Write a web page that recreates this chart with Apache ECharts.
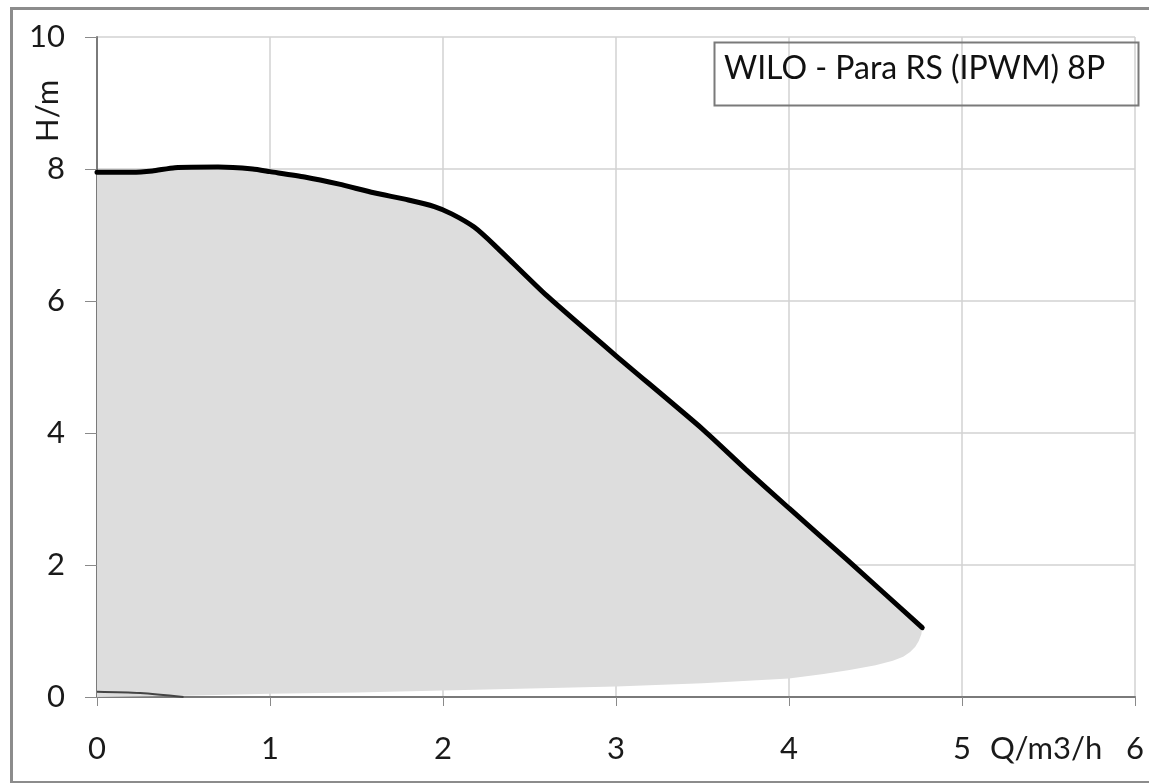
<!DOCTYPE html>
<html>
<head>
<meta charset="utf-8">
<script src="https://cdn.jsdelivr.net/npm/echarts@6/dist/echarts.min.js"></script>
<style>
html,body{margin:0;padding:0;background:#fff;}
#main{width:1149px;height:783px;}
</style>
</head>
<body>
<div id="main"></div>
<script>
// ---- data ----
const chartTitle = 'WILO - Para RS (IPWM) 8P';
const xAxisName = 'Q/m3/h';
const yAxisName = 'H/m';
const xTicks = [0, 1, 2, 3, 4, 5, 6];
const yTicks = [0, 2, 4, 6, 8, 10];

// pump curve (top boundary), Q in m3/h, H in m
const curveQ = [0, 0.2, 0.32, 0.45, 0.7, 0.9, 1.0, 1.2, 1.4, 1.6, 1.8, 1.95, 2.05, 2.18, 2.3, 2.6, 3.0, 3.5, 3.75, 4.0, 4.34, 4.77];
const curveH = [7.95, 7.95, 7.97, 8.02, 8.03, 8.0, 7.96, 7.88, 7.77, 7.64, 7.53, 7.43, 7.32, 7.12, 6.84, 6.08, 5.17, 4.06, 3.45, 2.86, 2.07, 1.05];

// lower boundary of the operating range (from the curve end back to the origin)
const lowerQ = [4.77, 4.765, 4.75, 4.73, 4.7, 4.66, 4.6, 4.5, 4.35, 4.2, 4.0, 3.5, 3.0, 2.5, 2.0, 1.5, 1.0, 0.5, 0];
const lowerH = [1.05, 0.95, 0.85, 0.76, 0.68, 0.61, 0.55, 0.48, 0.41, 0.35, 0.28, 0.21, 0.16, 0.13, 0.1, 0.07, 0.05, 0.02, 0];

// small line near origin
const minQ = [0, 0.25, 0.5];
const minH = [0.08, 0.06, 0.0];

// ---- chart ----
const zip = (a, b) => a.map((v, i) => [v, b[i]]);
const curveData = zip(curveQ, curveH);
const lowerData = zip(lowerQ, lowerH);
const polyData = curveData.concat(lowerData);

const fontFam = 'Lato, "Open Sans", sans-serif';
const chart = echarts.init(document.getElementById('main'), null, {renderer: 'canvas'});

chart.setOption({
  animation: false,
  backgroundColor: '#ffffff',
  grid: {left: 97, top: 37, right: 14, bottom: 86, containLabel: false},
  xAxis: {
    type: 'value', min: xTicks[0], max: xTicks[xTicks.length - 1], interval: 1,
    axisLine: {show: true, lineStyle: {color: '#7a7a7a', width: 2}},
    axisTick: {show: true, length: 9, lineStyle: {color: '#8a8a8a', width: 1}},
    splitLine: {show: true, lineStyle: {color: '#d2d2d2', width: 1.5}},
    axisLabel: {margin: 36, color: '#1a1a1a', fontFamily: fontFam, fontSize: 31,
      formatter: v => xTicks.indexOf(v) >= 0 ? String(v) : ''}
  },
  yAxis: {
    type: 'value', min: yTicks[0], max: yTicks[yTicks.length - 1], interval: 2,
    axisLine: {show: true, lineStyle: {color: '#7a7a7a', width: 2}},
    axisTick: {show: true, length: 12, lineStyle: {color: '#8a8a8a', width: 1}},
    splitLine: {show: true, lineStyle: {color: '#d2d2d2', width: 1.5}},
    axisLabel: {margin: 32, color: '#1a1a1a', fontFamily: fontFam, fontSize: 31,
      formatter: v => yTicks.indexOf(v) >= 0 ? String(v) : ''}
  },
  graphic: [
    {type: 'rect', left: 9, top: 6, z: 100, silent: true,
      shape: {x: 0, y: 0, width: 1160, height: 774},
      style: {fill: 'none', stroke: '#8c8c8c', lineWidth: 3}},
    {type: 'rect', left: 712, top: 40, z: 100, silent: true,
      shape: {x: 0, y: 0, width: 424, height: 63},
      style: {fill: 'none', stroke: '#7a7a7a', lineWidth: 2}},
    {type: 'text', left: 724, top: 53, z: 101,
      style: {text: chartTitle, fill: '#111111', font: '32px ' + fontFam}},
    {type: 'text', left: 990, top: 733, z: 101,
      style: {text: xAxisName, fill: '#1a1a1a', font: '31px ' + fontFam}},
    {type: 'text', x: 32, y: 142, rotation: Math.PI / 2, z: 101,
      style: {text: yAxisName, fill: '#1a1a1a', font: '31px ' + fontFam}}
  ],
  series: [
    {
      type: 'custom', name: 'range', z: 1, silent: true,
      data: [0],
      renderItem: function (params, api) {
        const pts = polyData.map(p => api.coord(p));
        return {type: 'polygon', shape: {points: pts}, style: {fill: '#dddddd', stroke: 'none'}};
      }
    },
    {
      type: 'line', name: 'pump', z: 5, data: curveData, smooth: 0.2,
      showSymbol: false, lineStyle: {color: '#000000', width: 5, cap: 'round'}
    },
    {
      type: 'line', name: 'min', z: 5, data: zip(minQ, minH), smooth: 0.3,
      showSymbol: false, lineStyle: {color: '#444444', width: 2}
    }
  ]
});
</script>
</body>
</html>
